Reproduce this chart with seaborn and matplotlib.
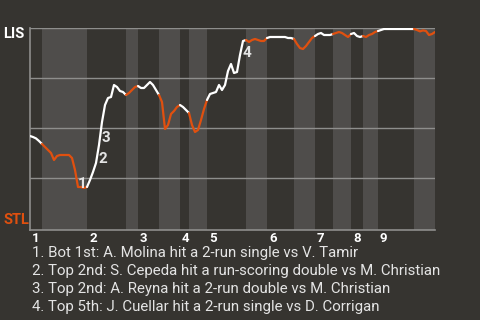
import matplotlib
matplotlib.use("Agg")
import matplotlib.pyplot as plt
import matplotlib.transforms as mtransforms
import seaborn as sns
import numpy as np
import pandas as pd

# ---- data ----
# LIS win probability (%) after each event
wp = [46, 45.5, 44.8, 43.5, 42, 40.5, 39, 37.5, 34, 36,
      36.5, 36.5, 36.5, 36.5, 35, 29, 20.5, 20.5, 20, 20.5,
      24, 28, 32.5, 41.5, 53, 61.5, 65, 65.5, 71.5, 70.5,
      68.5, 68, 66.5, 67.5, 69, 70.5, 71, 70, 70, 71.5,
      73, 71.5, 69, 66.5, 63, 49.5, 51.5, 57, 58.5, 60.5,
      61.5, 60.5, 59, 57.5, 51.5, 48, 49, 54, 59.5, 64,
      67, 67.5, 68, 71.5, 69, 71.5, 78.5, 82, 77.5, 78,
      86.5, 93.5, 94, 93, 94, 94.5, 94, 93.5, 93.5, 95,
      95.5, 95.5, 95.5, 95.5, 95.5, 95.5, 95, 95, 94.5, 92,
      90, 89.5, 91, 93, 95, 96, 97, 97.5, 96.5, 96.5,
      96.5, 97, 97.5, 98, 97.5, 96.5, 95.5, 97, 97.5, 96,
      95.5, 96, 95.5, 96.5, 97, 98, 98.5, 99, 99.5, 99.5,
      99.5, 99.5, 99.5, 99.5, 99.5, 99.5, 99.5, 99.5, 99.5, 99,
      98.3, 98.8, 98.5, 96.5, 97, 98]
# number of events in each half inning (top 1st, bottom 1st, ...)
half_len = [4, 15, 13, 4, 7, 7, 3, 6, 13, 7, 9, 7, 6, 6, 4, 5, 12, 7]
innings = ["1", "2", "3", "4", "5", "6", "7", "8", "9"]
team_top = "LIS"
team_bottom = "STL"
note_marks = ["1", "2", "3", "4"]
note_events = [15, 22, 23, 70]
notes = [
    "1. Bot 1st: A. Molina hit a 2-run single vs V. Tamir",
    "2. Top 2nd: S. Cepeda hit a run-scoring double vs M. Christian",
    "3. Top 2nd: A. Reyna hit a 2-run double vs M. Christian",
    "4. Top 5th: J. Cuellar hit a 2-run single vs D. Corrigan",
]

# ---- style ----
BG = "#363430"
BAND = "#4f4d4b"
GRID = "#8e8e8c"
ORANGE = "#e0500f"
WHITE = "#ffffff"
TXT = "#e4e4e4"

sns.set_theme(style="dark")
plt.rcParams["font.family"] = ["Roboto", "DejaVu Sans"]

fig = plt.figure(figsize=(4.8, 3.2), dpi=100, facecolor=BG)
ax = fig.add_axes([30 / 480, 1 - 230 / 320, 405 / 480, 202 / 320])
ax.set_facecolor(BG)

bounds = np.concatenate([[0], np.cumsum(half_len)])
total = bounds[-1]
ax.set_xlim(0, total)
ax.set_ylim(-1, 100)

# half-inning bands
for i in range(len(half_len)):
    if i % 2 == 1:
        ax.axvspan(bounds[i], bounds[i + 1], color=BAND, lw=0, zorder=0)

# gridlines
for g in [25, 50, 75, 100]:
    ax.axhline(g, color=GRID, lw=1.0, zorder=1)

df = pd.DataFrame({"event": np.arange(len(wp)), "wp": wp})
for i in range(len(half_len)):
    seg = df.iloc[bounds[i]:bounds[i + 1] + 1]
    sns.lineplot(data=seg, x="event", y="wp", ax=ax,
                 color=WHITE if i % 2 == 0 else ORANGE,
                 lw=1.6, zorder=3, legend=False)

ax.set_xlabel("")
ax.set_ylabel("")
ax.set_xticks([])
ax.set_yticks([])
for s in ["top", "right"]:
    ax.spines[s].set_visible(False)
for s in ["left", "bottom"]:
    ax.spines[s].set_visible(True)
    ax.spines[s].set_color(GRID)
    ax.spines[s].set_linewidth(1.2)
ax.grid(False)

# inning labels
trans = mtransforms.blended_transform_factory(ax.transData, ax.transAxes)
off = mtransforms.ScaledTranslation(2 / 100, 0, fig.dpi_scale_trans)
for j, lab in enumerate(innings):
    ax.text(bounds[2 * j], -0.04, lab, transform=trans + off,
            ha="left", va="center", color=WHITE, fontsize=9.5,
            fontweight="bold")

# team labels
fig.text(3 / 480, 1 - 34 / 320, team_top, color=WHITE, fontsize=10.5,
         fontweight="bold", ha="left", va="center")
fig.text(3 / 480, 1 - 220 / 320, team_bottom, color=ORANGE, fontsize=10.5,
         fontweight="bold", ha="left", va="center")

# play annotations
for m, e in zip(note_marks, note_events):
    xm = e + 0.5
    ym = (wp[e] + wp[e + 1]) / 2
    ax.annotate(m, (xm, ym), xytext=(5.5, -5), textcoords="offset pixels",
                ha="center", va="center", color=TXT, fontsize=11,
                fontweight="bold", zorder=5)

# notes
for k, n in enumerate(notes):
    fig.text(32 / 480, 1 - (253 + 18 * k) / 320, n, color=TXT,
             fontsize=10.85, ha="left", va="center")

fig.savefig("out.png", dpi=100, facecolor=BG)
